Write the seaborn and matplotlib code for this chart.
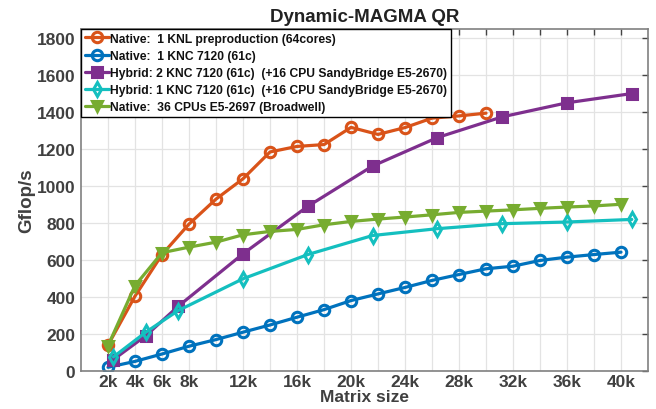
import numpy as np
import pandas as pd
import seaborn as sns
import matplotlib.pyplot as plt
from matplotlib.ticker import FixedLocator

# values (Gflop/s vs matrix size)
knl_n = [2000, 4000, 6000, 8000, 10000, 12000, 14000, 16000, 18000, 20000,
         22000, 24000, 26000, 28000, 30000]
knl_gf = [140, 405, 630, 795, 930, 1040, 1185, 1215, 1225, 1318,
          1280, 1317, 1368, 1380, 1395]

knc_n = [2000, 4000, 6000, 8000, 10000, 12000, 14000, 16000, 18000, 20000,
         22000, 24000, 26000, 28000, 30000, 32000, 34000, 36000, 38000, 40000]
knc_gf = [20, 52, 92, 134, 170, 210, 249, 291, 332, 381,
          417, 452, 490, 522, 553, 567, 598, 616, 630, 643]

hyb_n = [2400, 4800, 7200, 12000, 16800, 21600, 26400, 31200, 36000, 40800]
hyb2_gf = [62, 191, 350, 634, 891, 1109, 1263, 1375, 1451, 1501]
hyb1_gf = [76, 210, 327, 499, 630, 733, 770, 797, 806, 820]

cpu_n = knc_n
cpu_gf = [137, 462, 640, 670, 697, 737, 755, 766, 791, 809,
          822, 833, 845, 858, 865, 872, 880, 887, 893, 902]

labels = ["Native:  1 KNL preproduction (64cores)",
          "Native:  1 KNC 7120 (61c)",
          "Hybrid: 2 KNC 7120 (61c)  (+16 CPU SandyBridge E5-2670)",
          "Hybrid: 1 KNC 7120 (61c)  (+16 CPU SandyBridge E5-2670)",
          "Native:  36 CPUs E5-2697 (Broadwell)"]

xticks = list(range(2000, 42000, 2000))
xticklabels = ["2k", "4k", "6k", "8k", "", "12k", "", "16k", "", "20k", "",
               "24k", "", "28k", "", "32k", "", "36k", "", "40k"]

sns.set_style("white")
plt.rcParams['font.family'] = ['Liberation Sans', 'DejaVu Sans']
plt.rcParams['font.weight'] = 'bold'

fig = plt.figure(figsize=(6.56, 4.10), dpi=100)
ax = fig.add_axes([0.1235, 0.0927, 0.8643, 0.834])

series = [
    (knl_n, knl_gf, "#D95319", "o", "none"),
    (knc_n, knc_gf, "#0072BD", "o", "none"),
    (hyb_n, hyb2_gf, "#7E2F8E", "s", "#7E2F8E"),
    (hyb_n, hyb1_gf, "#14BFBF", "d", "none"),
    (cpu_n, cpu_gf, "#77AC30", "v", "#77AC30"),
]
for (xs, ys, col, mk, face), lab in zip(series, labels):
    df = pd.DataFrame({"n": xs, "gflops": ys})
    sns.lineplot(data=df, x="n", y="gflops", ax=ax, color=col, marker=mk,
                 markersize=7.5, markeredgewidth=2.2, markerfacecolor=face,
                 markeredgecolor=col, linewidth=2.3, label=lab)

ax.set_xlim(0, 42000)
ax.set_ylim(0, 1850)
ax.xaxis.set_major_locator(FixedLocator(xticks))
ax.set_xticklabels(xticklabels)
ax.set_yticks(range(0, 1801, 200))
ax.grid(True, color="#e3e3e3", linewidth=0.9)
ax.tick_params(direction="in", length=4, colors="#444444", labelsize=12.5,
               top=True, right=True, labelcolor="#404040", width=1, pad=4)
ax.tick_params(axis="x", pad=2.5)
for lab in ax.get_xticklabels() + ax.get_yticklabels():
    lab.set_fontweight("bold")
for sp in ax.spines.values():
    sp.set_visible(True)
    sp.set_color("#808080")
    sp.set_linewidth(1.2)

ax.set_xlabel("Matrix size", fontsize=12.5, fontweight="bold", color="#404040",
              labelpad=0)
ax.set_ylabel("Gflop/s", fontsize=13.5, fontweight="bold", color="#404040",
              labelpad=1)
ax.set_title("Dynamic-MAGMA QR", fontsize=13.5, fontweight="bold",
             color="#222222", pad=6)

leg = ax.legend(loc="upper left", borderaxespad=0, fontsize=8.7, frameon=True,
                fancybox=False, framealpha=1, edgecolor="black",
                handlelength=2.0, handletextpad=0.1, labelspacing=0.42,
                borderpad=0.3)
leg.get_frame().set_linewidth(1.0)
for t in leg.get_texts():
    t.set_fontweight("bold")
    t.set_color("#111111")

fig.savefig("out.png", dpi=100)
